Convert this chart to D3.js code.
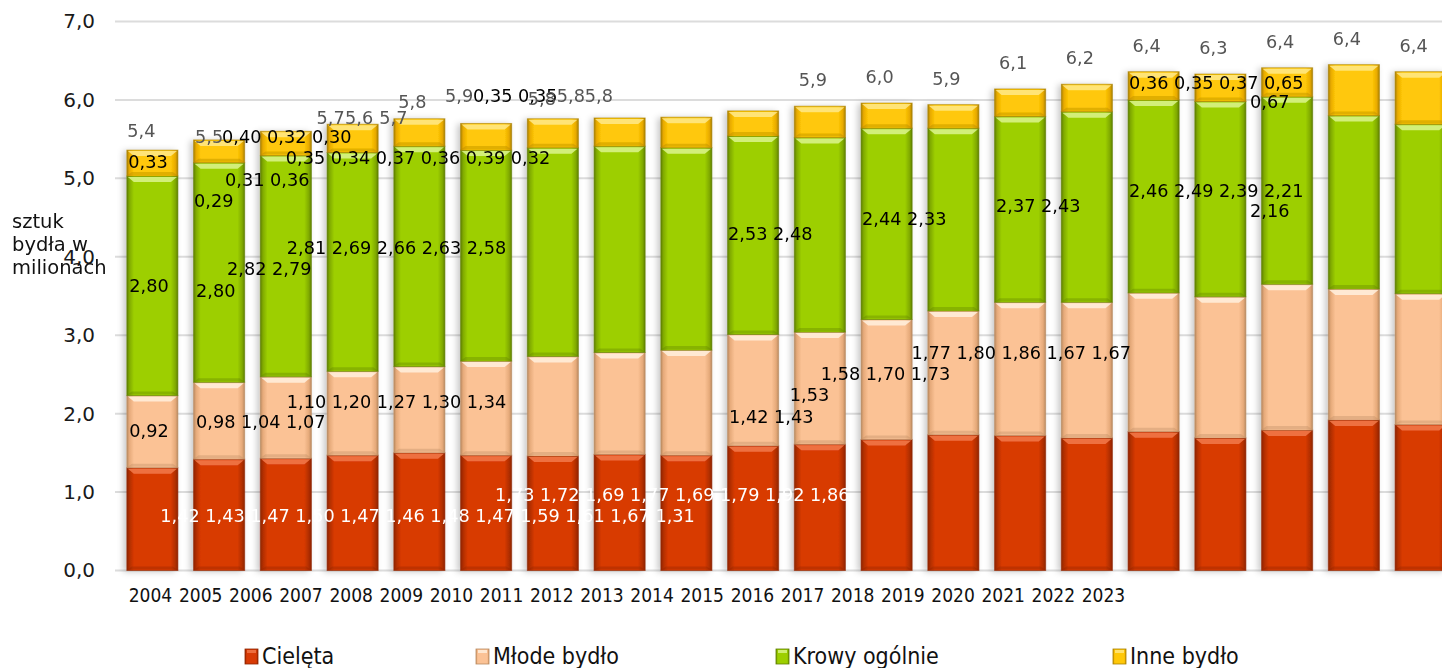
<!DOCTYPE html>
<html><head><meta charset="utf-8">
<script src="https://cdn.jsdelivr.net/npm/d3@7"></script>
<style>html,body{margin:0;padding:0;background:#fff;}svg{display:block}</style>
</head><body><svg id="c" width="1442" height="668"></svg>
<script>
// ---------- data ----------
const years = ["2004","2005","2006","2007","2008","2009","2010","2011","2012","2013","2014","2015","2016","2017","2018","2019","2020","2021","2022","2023"];
const cielęta = [1.31,1.42,1.43,1.47,1.50,1.47,1.46,1.48,1.47,1.59,1.61,1.67,1.73,1.72,1.69,1.77,1.69,1.79,1.92,1.86];
const młodeBydło = [0.92,0.98,1.04,1.07,1.10,1.20,1.27,1.30,1.34,1.42,1.43,1.53,1.58,1.70,1.73,1.77,1.80,1.86,1.67,1.67];
const krowyOgólnie = [2.80,2.80,2.82,2.79,2.81,2.69,2.66,2.63,2.58,2.53,2.48,2.44,2.33,2.37,2.43,2.46,2.49,2.39,2.21,2.16];
const inneBydło = [0.33,0.29,0.31,0.36,0.35,0.34,0.37,0.36,0.39,0.32,0.40,0.32,0.30,0.35,0.35,0.36,0.35,0.37,0.65,0.67];
const totalLabels = ["5,4","5,5","5,6","5,7","5,8","5,7","5,8","5,8","5,8","5,9","5,9","6,0","5,9","6,1","6,2","6,4","6,3","6,4","6,4","6,4"];
const seriesNames = ["Cielęta","Młode bydło","Krowy ogólnie","Inne bydło"];
const yTicks = [0,1,2,3,4,5,6,7];
const yTitle = ["sztuk","bydła w","milionach"];

// ---------- styles / layout ----------
const keys = ["c","m","k","n"];
const seriesArr = {c:cielęta, m:młodeBydło, k:krowyOgólnie, n:inneBydło};
const pal = [
  {base:"#d83a05", dark:"#8f2500", edge:"#b02e00", light:"#f27a4c"},
  {base:"#fbc295", dark:"#b98a60", edge:"#e6aa7a", light:"#fff0de"},
  {base:"#9dcf00", dark:"#5f7f00", edge:"#80aa00", light:"#dcf58e"},
  {base:"#ffc808", dark:"#a88000", edge:"#e8aa00", light:"#ffe98a"}
];
const labelFont = "DejaVu Sans";
const condFont = "DejaVu Sans Condensed";

const svg = d3.select("#c");
const W = 1442;
const x = d3.scaleBand().domain(years).range([119, 1454]).paddingInner(0.22).paddingOuter(0.11);
const y = d3.scaleLinear().domain([0, 7]).range([570.5, 21.5]);
const xTickScale = d3.scalePoint().domain(years).range([150, 1103]);

const defs = svg.append("defs");
pal.forEach((p, i) => {
  const g = defs.append("linearGradient").attr("id", "g" + i).attr("x1", 0).attr("x2", 1).attr("y1", 0).attr("y2", 0);
  [[0, p.dark],[0.05, p.edge],[0.14, p.base],[0.86, p.base],[0.95, p.edge],[1, p.dark]].forEach(([o, c]) =>
    g.append("stop").attr("offset", o).attr("stop-color", c));
});
const f = defs.append("filter").attr("id", "sh").attr("x", -0.3).attr("y", -0.1).attr("width", 1.6).attr("height", 1.2);
f.append("feDropShadow").attr("dx", -3).attr("dy", 1).attr("stdDeviation", 3).attr("flood-color", "#000").attr("flood-opacity", 0.22);

// gridlines
svg.append("g").selectAll("line").data(yTicks).join("line")
  .attr("x1", 115).attr("x2", W).attr("y1", d => y(d)).attr("y2", d => y(d))
  .attr("stroke", "#dcdcdc").attr("stroke-width", 2);

// y axis
const yAx = svg.append("g").attr("transform", "translate(95,0)")
  .call(d3.axisLeft(y).tickValues(yTicks).tickSize(0).tickPadding(0).tickFormat(d => d.toFixed(1).replace(".", ",")));
yAx.select(".domain").remove();
yAx.selectAll("text").attr("font-family", labelFont).attr("font-size", 20).attr("fill", "#1a1a1a");

// stacked bars
const rows = years.map((yr, i) => ({year: yr, c: cielęta[i], m: młodeBydło[i], k: krowyOgólnie[i], n: inneBydło[i]}));
const stacked = d3.stack().keys(keys)(rows);
const gBars = svg.append("g").attr("filter", "url(#sh)");
stacked.forEach((layer, li) => {
  const p = pal[li];
  const sel = gBars.append("g").selectAll("g").data(layer).join("g");
  sel.append("rect")
    .attr("x", d => x(d.data.year) + 0.5).attr("y", d => y(d[1]))
    .attr("width", x.bandwidth() - 1).attr("height", d => y(d[0]) - y(d[1]))
    .attr("fill", `url(#g${li})`).attr("stroke", p.dark).attr("stroke-width", 1).attr("stroke-opacity", 0.6);
  // top bevel highlight
  sel.append("path").attr("d", d => {
    const x0 = x(d.data.year) + 1.5, x1 = x(d.data.year) + x.bandwidth() - 1.5, yt = y(d[1]) + 1, h = 5;
    return `M${x0},${yt}L${x1},${yt}L${x1 - 6},${yt + h}L${x0 + 6},${yt + h}Z`;
  }).attr("fill", p.light).attr("opacity", 0.85);
  // bottom shade
  sel.append("path").attr("d", d => {
    const x0 = x(d.data.year) + 1.5, x1 = x(d.data.year) + x.bandwidth() - 1.5, yb = y(d[0]) - 1, h = 3;
    return `M${x0},${yb}L${x1},${yb}L${x1 - 4},${yb - h}L${x0 + 4},${yb - h}Z`;
  }).attr("fill", p.dark).attr("opacity", 0.35);
});

// x tick labels (separate, compressed scale as in the original)
const xAx = svg.append("g").attr("transform", "translate(0,588)")
  .call(d3.axisBottom(xTickScale).tickSize(0).tickPadding(0));
xAx.select(".domain").remove();
xAx.selectAll("text").attr("font-family", condFont).attr("font-size", 19).attr("fill", "#111");

// y title
svg.append("text").attr("x", 12).attr("y", 228).attr("font-family", labelFont).attr("font-size", 19.5).attr("fill", "#111")
  .selectAll("tspan").data(yTitle).join("tspan").attr("x", 12).attr("dy", (d, i) => i ? 23 : 0).text(d => d);

// ---------- data labels (as placed in the original) ----------
const fmt = v => v.toFixed(2).replace(".", ",");
// s: series key, idx: indices in series, bar: anchor bar, dx: px from bar's left edge, v: y position in data units
const labelLayout = [
  {s:"c", idx:[1,2,3,4,5,6,7,8,9,10,11,0], bar:0, dx:34, v:0.62},
  {s:"c", idx:[12,13,14,15,16,17,18,19], bar:5, dx:35, v:0.89},
  {s:"m", idx:[0], bar:0, dx:3, v:1.70},
  {s:"m", idx:[1,2,3], bar:1, dx:3, v:1.82},
  {s:"m", idx:[4,5,6,7,8], bar:2, dx:27, v:2.07},
  {s:"m", idx:[9,10], bar:9, dx:2, v:1.88},
  {s:"m", idx:[11], bar:10, dx:-4, v:2.16},
  {s:"m", idx:[12,13,14], bar:10, dx:27, v:2.43},
  {s:"m", idx:[15,16,17,18,19], bar:11, dx:51, v:2.70},
  {s:"k", idx:[0], bar:0, dx:3, v:3.55},
  {s:"k", idx:[1], bar:1, dx:3, v:3.49},
  {s:"k", idx:[2,3], bar:1, dx:34, v:3.77},
  {s:"k", idx:[4,5,6,7,8], bar:2, dx:27, v:4.04},
  {s:"k", idx:[9,10], bar:9, dx:1, v:4.21},
  {s:"k", idx:[11,12], bar:11, dx:1.5, v:4.41},
  {s:"k", idx:[13,14], bar:13, dx:2, v:4.57},
  {s:"k", idx:[15,16,17,18], bar:15, dx:1.5, v:4.76},
  {s:"k", idx:[19], bar:17, dx:-11, v:4.51},
  {s:"n", idx:[0], bar:0, dx:2, v:5.13},
  {s:"n", idx:[10,11,12], bar:1, dx:29, v:5.45},
  {s:"n", idx:[4,5,6,7,8,9], bar:2, dx:26, v:5.18},
  {s:"n", idx:[2,3], bar:1, dx:32, v:4.90},
  {s:"n", idx:[1], bar:1, dx:1, v:4.63},
  {s:"n", idx:[13,14], bar:5, dx:13, v:5.97},
  {s:"n", idx:[15,16,17,18], bar:15, dx:1.5, v:6.14},
  {s:"n", idx:[19], bar:17, dx:-11, v:5.90}
];
svg.append("g").selectAll("text").data(labelLayout).join("text")
  .attr("x", d => x(years[d.bar]) + d.dx).attr("y", d => y(d.v))
  .attr("font-family", labelFont).attr("font-size", 17.7)
  .attr("fill", d => d.s === "c" ? "#ffffff" : "#000000")
  .style("white-space", "pre")
  .text(d => d.idx.map(i => fmt(seriesArr[d.s][i])).join(" "));

// totals: first ten displaced, the rest above the stacks
const totalLayout = [
  {i:0, bar:0, dx:1, v:5.53},
  {i:1, bar:1, dx:2, v:5.45},
  {i:3, bar:3, dx:-10, v:5.69},
  {i:2, bar:3, dx:18.5, v:5.69},
  {i:5, bar:4, dx:-14, v:5.69},
  {i:4, bar:4, dx:5, v:5.90},
  {i:9, bar:5, dx:-15, v:5.97},
  {i:6, bar:6, dx:1, v:5.93},
  {i:7, bar:6, dx:30, v:5.97},
  {i:8, bar:6, dx:58, v:5.97}
];
const stackTop = i => cielęta[i] + młodeBydło[i] + krowyOgólnie[i] + inneBydło[i];
const gT = svg.append("g").attr("font-family", labelFont).attr("font-size", 17.7).attr("fill", "#555");
gT.selectAll("text.a").data(totalLayout).join("text").attr("class", "a")
  .attr("x", d => x(years[d.bar]) + d.dx).attr("y", d => y(d.v)).text(d => totalLabels[d.i]);
gT.selectAll("text.b").data(d3.range(10, 20)).join("text").attr("class", "b")
  .attr("text-anchor", "middle")
  .attr("x", i => x(years[i]) + x.bandwidth() / 2 - 7).attr("y", i => y(stackTop(i)) - 20).text(i => totalLabels[i]);

// legend
const legendX = [245, 476, 776, 1113];
const lg = svg.append("g").selectAll("g").data(seriesNames).join("g").attr("transform", (d, i) => `translate(${legendX[i]},649)`);
lg.append("rect").attr("width", 13).attr("height", 15).attr("fill", (d, i) => `url(#g${i})`).attr("stroke", (d, i) => pal[i].dark).attr("stroke-width", 0.8);
lg.append("rect").attr("x", 2).attr("y", 1).attr("width", 9).attr("height", 3).attr("fill", (d, i) => pal[i].light).attr("opacity", 0.8);
lg.append("text").attr("x", 17).attr("y", 15).attr("font-family", condFont).attr("font-size", 23).attr("fill", "#111").text(d => d);
</script>
</body></html>
